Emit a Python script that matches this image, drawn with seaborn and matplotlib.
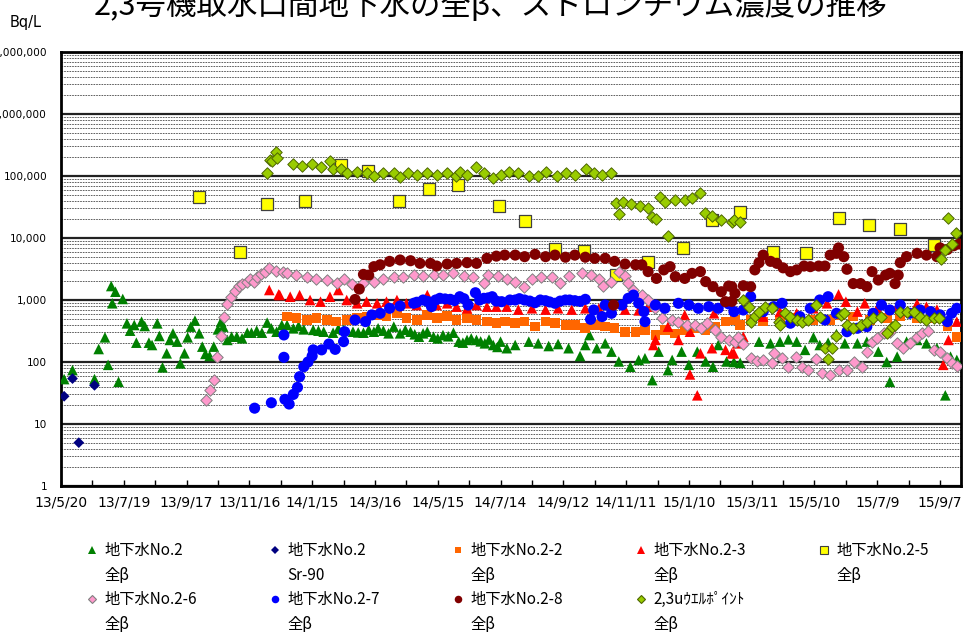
import numpy as np
import pandas as pd
import matplotlib
matplotlib.use("Agg")
import matplotlib.pyplot as plt
import seaborn as sns
import matplotlib.dates as mdates
from matplotlib.ticker import FixedLocator, FuncFormatter, LogLocator, NullFormatter
from matplotlib.lines import Line2D

# ---------------- data (days since 2013-05-20, Bq/L) ----------------
START = "2013-05-20"
x_tick_labels = ["13/5/20", "13/7/19", "13/9/17", "13/11/16", "14/1/15", "14/3/16", "14/5/15",
                 "14/7/14", "14/9/12", "14/11/11", "15/1/10", "15/3/11", "15/5/10", "15/7/9", "15/9/7"]
x_end_day = 860

no2_days = [3, 11, 32, 36, 42, 45, 48, 49, 52, 59,
            55, 63, 66, 70, 72, 77, 80, 84, 87, 92,
            94, 97, 101, 104, 107, 111, 114, 118, 121, 124,
            128, 132, 135, 138, 142, 146, 150, 153, 155, 159,
            163, 168, 173, 178, 182, 187, 192, 197, 201, 206,
            211, 216, 222, 232, 241, 251, 260, 270, 279, 289,
            299, 308, 318, 324, 334, 342, 350, 356, 365, 375,
            380, 388, 397, 405, 413, 420, 426, 434, 447, 456,
            466, 475, 485, 496, 501, 505, 512, 520, 526, 533,
            544, 552, 558, 565, 571, 580, 584, 593, 600, 608,
            616, 623, 628, 636, 643, 649, 667, 678, 687, 695,
            703, 711, 719, 725, 733, 741, 749, 761, 770, 781,
            789, 792, 799, 808, 818, 827, 837, 845, 850, 856,
            227, 246, 265, 284, 294, 303, 313, 329, 338, 346,
            360, 370, 384, 392, 401, 409, 417]
no2_vals = [53, 74, 53, 162, 250, 90, 1680, 885, 1360, 1040,
            48, 420, 320, 395, 205, 448, 381, 205, 188, 420,
            263, 82, 138, 227, 290, 213, 95, 138, 250, 372,
            465, 290, 177, 135, 125, 177, 336, 448, 372, 227,
            256, 256, 241, 297, 297, 320, 297, 432, 349, 308,
            395, 395, 349, 336, 330, 308, 297, 330, 308, 297,
            308, 320, 372, 290, 308, 256, 308, 256, 272, 297,
            213, 227, 227, 200, 188, 213, 167, 188, 213, 200,
            181, 195, 167, 125, 188, 272, 167, 200, 147, 102,
            84, 108, 115, 51, 147, 74, 108, 147, 90, 147,
            102, 84, 188, 102, 100, 97, 213, 200, 213, 232,
            213, 157, 250, 188, 205, 283, 200, 200, 213, 147,
            100, 48, 122, 213, 227, 200, 167, 29, 122, 108,
            380, 320, 345, 300, 330, 350, 290, 330, 280, 290,
            240, 260, 205, 240, 215, 230, 175]

sr90_days = [3, 11, 17, 32]
sr90_vals = [28, 54, 5, 42]

no2_2_days = [216, 225, 235, 244, 254, 263, 273, 283, 292, 302,
              311, 321, 330, 340, 350, 359, 369, 378, 388, 397,
              407, 416, 424, 434, 443, 453, 463, 472, 482, 491,
              501, 510, 520, 529, 539, 549, 558, 568, 577, 587,
              596, 606, 616, 625, 635, 644, 649, 659, 671, 687,
              703, 719, 735, 745, 757, 773, 789, 802, 818, 834,
              847, 856]
no2_2_vals = [540, 510, 476, 510, 476, 448, 476, 510, 540, 575,
              540, 610, 510, 476, 575, 510, 550, 476, 510, 476,
              448, 422, 448, 422, 448, 372, 448, 422, 396, 396,
              350, 396, 372, 350, 308, 308, 330, 272, 330, 290,
              330, 350, 330, 372, 448, 476, 396, 476, 448, 476,
              510, 476, 476, 575, 540, 476, 510, 540, 510, 510,
              372, 256]

no2_3_days = [199, 208, 209, 219, 228, 238, 248, 257, 265, 273,
              283, 292, 302, 311, 321, 330, 340, 350, 359, 369,
              378, 388, 397, 407, 416, 426, 437, 450, 463, 475,
              488, 501, 514, 526, 539, 552, 561, 566, 568, 580,
              590, 596, 601, 601, 608, 611, 622, 624, 635, 641,
              643, 646, 652, 671, 687, 703, 719, 732, 743, 750,
              761, 768, 780, 799, 818, 827, 837, 843, 848, 856]
no2_3_vals = [1450, 1230, 1200, 1130, 1200, 1000, 940, 1130, 1450, 1000,
              885, 940, 885, 940, 1000, 885, 830, 1200, 830, 885,
              781, 735, 830, 781, 781, 781, 700, 735, 700, 735,
              700, 735, 735, 700, 700, 680, 781, 188, 227, 372,
              227, 572, 308, 63, 29, 138, 167, 610, 157, 138,
              138, 200, 256, 540, 650, 610, 735, 885, 1230, 940,
              650, 885, 735, 781, 870, 781, 700, 90, 227, 448]

no2_5_days = [132, 171, 197, 233, 268, 293, 323, 352, 379, 419,
              443, 472, 500, 530, 561, 594, 622, 649, 680, 712,
              743, 772, 802, 834]
no2_5_vals = [46500, 5960, 34900, 39500, 150700, 120500, 39500, 61800, 71600, 32800,
              18800, 6730, 6100, 2540, 4100, 6820, 19500, 25900, 5880, 5660,
              21300, 16200, 13800, 7710]

no2_6_days = [139, 142, 146, 149, 153, 156, 159, 162, 166, 170,
              173, 178, 181, 184, 187, 191, 195, 199, 205, 212,
              216, 225, 235, 244, 254, 264, 270, 278, 289, 299,
              308, 318, 327, 337, 346, 356, 365, 375, 385, 394,
              404, 408, 418, 426, 434, 442, 450, 459, 469, 477,
              485, 498, 506, 514, 518, 526, 533, 539, 542, 547,
              555, 561, 568, 574, 584, 590, 598, 606, 612, 617,
              625, 631, 638, 644, 647, 652, 659, 665, 671, 679,
              681, 689, 695, 702, 708, 714, 721, 727, 735, 743,
              751, 758, 765, 770, 775, 780, 786, 792, 799, 805,
              811, 818, 823, 828, 834, 840, 847, 851, 856]
no2_6_vals = [24, 36, 51, 119, 266, 538, 851, 1100, 1400, 1680,
              1810, 1980, 2160, 1980, 2380, 2630, 2870, 3240, 2930, 2870,
              2760, 2520, 2380, 2160, 2100, 1900, 2160, 1840, 1880, 1980,
              2200, 2380, 2380, 2520, 2450, 2520, 2520, 2690, 2450, 2380,
              1900, 2520, 2450, 2200, 1980, 1640, 2200, 2380, 2380, 1880,
              2450, 2690, 2520, 2200, 1680, 1980, 2870, 2450, 1880, 1450,
              1200, 1000, 735, 519, 476, 448, 396, 396, 350, 422,
              330, 256, 227, 213, 256, 195, 115, 102, 108, 97,
              138, 115, 84, 122, 84, 75, 110, 66, 62, 75,
              75, 100, 84, 147, 213, 241, 290, 308, 200, 167,
              200, 256, 290, 320, 157, 147, 115, 97, 85]

no2_7_days = [185, 201, 213, 213, 214, 218, 222, 226, 228, 232,
              236, 240, 241, 249, 256, 262, 270, 271, 281, 291,
              297, 305, 314, 324, 337, 346, 354, 362, 372, 381,
              389, 396, 404, 412, 421, 429, 434, 443, 453, 463,
              472, 482, 491, 501, 506, 509, 517, 520, 526, 536,
              542, 547, 552, 557, 558, 568, 577, 590, 600, 609,
              619, 628, 638, 643, 652, 659, 671, 681, 689, 697,
              706, 716, 725, 730, 733, 741, 751, 761, 770, 776,
              784, 792, 802, 811, 821, 831, 840, 847, 851, 856,
              340, 350, 358, 367, 376, 385, 400, 408, 416, 438,
              448, 458, 467, 477, 486, 496]
no2_7_vals = [18, 22, 273, 119, 25, 21, 30, 39, 58, 84,
              100, 125, 157, 157, 195, 160, 213, 308, 476, 448,
              575, 610, 735, 800, 885, 1000, 781, 1065, 1025, 1130,
              830, 1310, 1065, 1130, 940, 1000, 1000, 1000, 905, 975,
              885, 1000, 975, 1025, 488, 690, 540, 830, 610, 830,
              1065, 1200, 885, 650, 448, 830, 735, 885, 830, 735,
              781, 735, 865, 650, 690, 1130, 650, 781, 885, 422,
              540, 735, 1000, 476, 1130, 610, 308, 350, 372, 610,
              830, 690, 830, 610, 690, 650, 575, 448, 610, 735,
              920, 950, 1000, 1040, 980, 1050, 1000, 1080, 960, 1050,
              960, 1000, 930, 960, 1000, 950]

no2_8_days = [281, 285, 289, 294, 299, 305, 314, 324, 334, 343,
              353, 359, 369, 378, 388, 397, 407, 416, 424, 434,
              443, 453, 463, 472, 482, 491, 501, 510, 520, 528,
              529, 539, 549, 555, 561, 569, 576, 582, 587, 596,
              603, 611, 616, 623, 631, 635, 638, 641, 641, 644,
              652, 659, 663, 667, 671, 678, 684, 690, 697, 703,
              710, 716, 724, 730, 735, 741, 743, 748, 751, 757,
              764, 770, 775, 781, 788, 792, 797, 800, 802, 808,
              818, 827, 837, 840, 847, 853, 858]
no2_8_vals = [1020, 1500, 2590, 2520, 3450, 3700, 4200, 4420, 4300, 3900,
              3900, 3530, 3800, 3900, 4000, 3900, 4700, 5100, 5300, 5300,
              5000, 5450, 5000, 5300, 4900, 5300, 4900, 4700, 4700, 830,
              4200, 3800, 3700, 3700, 2870, 2230, 3060, 3450, 2380, 2230,
              2690, 2870, 1980, 1640, 1360, 940, 1680, 1640, 950, 1280,
              1700, 1640, 3060, 4000, 5300, 4200, 3900, 3300, 2870, 3060,
              3530, 3450, 3530, 3530, 5300, 5660, 6920, 5000, 3130, 1840,
              1840, 1640, 2870, 2100, 2520, 2690, 1840, 2520, 4000, 5000,
              5660, 5300, 5000, 6920, 6520, 7500, 8000]

wp23_days = [197, 200, 202, 205, 206, 222, 230, 240, 248, 257,
             260, 268, 273, 283, 292, 299, 308, 318, 324, 332,
             340, 350, 359, 369, 377, 381, 388, 397, 404, 413,
             420, 428, 437, 447, 456, 463, 474, 483, 491, 502,
             509, 517, 526, 530, 533, 537, 545, 553, 561, 565,
             569, 572, 577, 580, 587, 596, 603, 611, 615, 622,
             631, 641, 643, 649, 652, 657, 659, 663, 667, 673,
             679, 686, 687, 692, 697, 703, 708, 714, 721, 725,
             730, 733, 737, 741, 745, 748, 751, 757, 764, 770,
             776, 784, 789, 794, 797, 802, 808, 815, 821, 827,
             834, 839, 841, 845, 848, 851, 855]
wp23_vals = [110000, 181000, 172000, 245000, 195000, 156000, 147000, 156000, 141000, 176000,
             132000, 132000, 113000, 117000, 110000, 100000, 110000, 110000, 97000, 110000,
             103000, 110000, 103000, 110000, 100000, 117000, 103000, 141000, 113000, 92000,
             103000, 117000, 110000, 100000, 100000, 117000, 100000, 110000, 103000, 132000,
             110000, 103000, 110000, 37100, 24100, 38600, 35700, 33100, 31000, 21600,
             20000, 46500, 38600, 10800, 41000, 41000, 43700, 53000, 25600, 22300,
             19500, 18300, 19500, 18300, 1000, 760, 448, 550, 650, 781,
             735, 448, 396, 610, 540, 476, 435, 476, 830, 540,
             167, 110, 167, 266, 575, 610, 396, 350, 396, 448,
             510, 540, 297, 372, 396, 650, 650, 650, 540, 476,
             510, 510, 4530, 6520, 20800, 8000, 12200]

legend_line1 = ["地下水No.2", "地下水No.2", "地下水No.2-2", "地下水No.2-3", "地下水No.2-5",
                "地下水No.2-6", "地下水No.2-7", "地下水No.2-8", "2,3uｳｴﾙﾎﾟｲﾝﾄ"]
legend_line2 = ["全β", "Sr-90", "全β", "全β", "全β", "全β", "全β", "全β", "全β"]
title = "2,3号機取水口間地下水の全β、ストロンチウム濃度の推移"

# ---------------- style ----------------
sns.set_theme(style="white")
plt.rcParams["font.family"] = ["Noto Sans CJK JP", "DejaVu Sans"]
plt.rcParams["text.color"] = "black"
plt.rcParams["xtick.color"] = "black"
plt.rcParams["ytick.color"] = "black"
plt.rcParams["xtick.labelcolor"] = "black"
plt.rcParams["ytick.labelcolor"] = "black"

start = pd.Timestamp(START)
def to_dates(days):
    return start + pd.to_timedelta(np.asarray(days), unit="D")

series = [
    (no2_days, no2_vals, "^", "#008000", "none", 58, 0),
    (sr90_days, sr90_vals, "D", "#000080", "none", 30, 0),
    (no2_2_days, no2_2_vals, "s", "#FF6600", "none", 48, 0),
    (no2_3_days, no2_3_vals, "^", "#FF0000", "none", 58, 0),
    (no2_5_days, no2_5_vals, "s", "#FFFF00", "#404040", 65, 0.9),
    (no2_6_days, no2_6_vals, "D", "#FF99CC", "#808080", 34, 0.7),
    (no2_7_days, no2_7_vals, "o", "#0000FF", "none", 64, 0),
    (no2_8_days, no2_8_vals, "o", "#800000", "none", 64, 0),
    (wp23_days, wp23_vals, "D", "#99CC00", "#4D6600", 34, 0.7),
]

fig = plt.figure(figsize=(9.64, 6.37), dpi=100)
ax = fig.add_axes([61 / 964, 151 / 637, 900 / 964, 434 / 637])

handles = []
for i, (d, v, m, c, ec, s, lw) in enumerate(series):
    df = pd.DataFrame({"date": to_dates(d), "value": v})
    sns.scatterplot(data=df, x="date", y="value", ax=ax, marker=m, color=c,
                    edgecolor=ec, s=s, linewidth=lw, zorder=3 + i, legend=False)
    handles.append(Line2D([], [], linestyle="none", marker=m, markerfacecolor=c,
                          markeredgecolor=(c if ec == "none" else ec),
                          markeredgewidth=(0 if ec == "none" else 0.8),
                          markersize=np.sqrt(s) * 0.68))

ax.set_yscale("log")
ax.set_ylim(1, 1e7)
ax.set_xlim(start, start + pd.Timedelta(days=x_end_day))
ax.set_xlabel("")
ax.set_ylabel("")

ax.yaxis.set_major_locator(LogLocator(base=10, numticks=12))
ax.yaxis.set_minor_locator(LogLocator(base=10, subs=np.arange(2, 10), numticks=12))
ax.yaxis.set_minor_formatter(NullFormatter())
ax.yaxis.set_major_formatter(FuncFormatter(lambda v, p: f"{v:,.0f}"))
ax.grid(which="major", axis="y", color="#222222", linewidth=1.6, linestyle="-", zorder=1)
ax.grid(which="minor", axis="y", color="#444444", linewidth=0.6, linestyle=(0, (2, 1.2)), zorder=1)
ax.grid(which="both", axis="x", visible=False)
ax.set_axisbelow(True)

tick_dates = pd.to_datetime(x_tick_labels, format="%y/%m/%d")
ax.xaxis.set_major_locator(FixedLocator(mdates.date2num(tick_dates)))
ax.xaxis.set_major_formatter(FuncFormatter(
    lambda v, p: x_tick_labels[p] if p is not None and p < len(x_tick_labels) else ""))
minor_dates = tick_dates[:-1] + (tick_dates[1:] - tick_dates[:-1]) / 2
ax.xaxis.set_minor_locator(FixedLocator(mdates.date2num(minor_dates)))

ax.tick_params(axis="x", which="both", direction="in", length=4, width=1, color="black",
               labelsize=10, pad=7, bottom=True)
ax.tick_params(axis="y", which="both", length=0, labelsize=7.6, pad=10)
for lab in ax.get_xticklabels() + ax.get_yticklabels():
    lab.set_fontfamily(["DejaVu Sans"])
for sp in ax.spines.values():
    sp.set_color("black")
    sp.set_linewidth(2)

fig.text(491 / 964, 1 - 15 / 637, title, ha="center", va="baseline", fontsize=22)
fig.text(10 / 964, 1 - 22 / 637, "Bq/L", ha="left", va="center", fontsize=10.5,
         family=["DejaVu Sans"])

blank = Line2D([], [], linestyle="none", marker=None)
leg_h, leg_l = [], []
for c in range(5):
    leg_h += [handles[c], blank]
    leg_l += [legend_line1[c], legend_line2[c]]
    if c + 5 < len(handles):
        leg_h += [handles[c + 5], blank]
        leg_l += [legend_line1[c + 5], legend_line2[c + 5]]
    else:
        leg_h += [blank, blank]
        leg_l += ["", ""]
leg = fig.legend(leg_h, leg_l, loc="upper left", bbox_to_anchor=(86 / 964, 1 - 542 / 637),
                 ncol=5, frameon=False, fontsize=11, handlelength=0.8, handletextpad=0.4,
                 columnspacing=4.72, labelspacing=0.5, borderpad=0, borderaxespad=0)
for t in leg.get_texts():
    t.set_color("black")

fig.savefig("out.png", dpi=100)
